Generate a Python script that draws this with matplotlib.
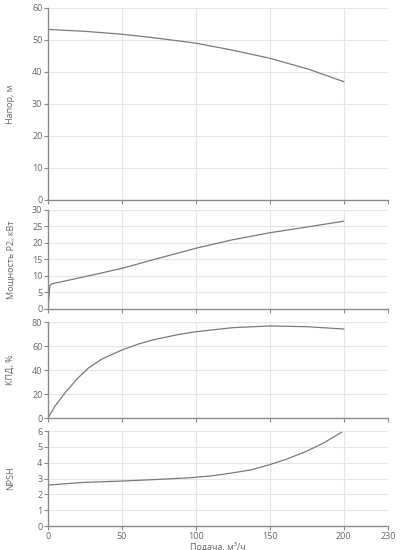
"""Pump performance curves: head, power, efficiency and NPSH vs flow."""
import matplotlib
matplotlib.use("Agg")
import matplotlib.pyplot as plt

plt.rcParams["font.family"] = ["Open Sans", "DejaVu Sans"]

# flow, m3/h -> values
Q_HEAD = [0, 25, 50, 75, 100, 124, 150, 176, 200]
HEAD = [53.3, 52.7, 51.8, 50.5, 49.0, 46.9, 44.3, 40.9, 37.0]

Q_POWER = [0, 0.7, 1.35, 2.5, 25, 50, 75, 100, 124, 150, 176, 200]
POWER = [0, 4.2, 7.1, 7.6, 9.8, 12.3, 15.4, 18.4, 20.9, 23.1, 24.9, 26.6]

Q_EFF = [0, 4.7, 11.5, 20.5, 27.3, 36.3, 50, 61, 72, 87, 100, 125, 150, 175, 200]
EFF = [0, 9.8, 21.0, 33.6, 41.6, 49.0, 56.7, 61.6, 65.4, 69.3, 71.9, 75.3, 76.7, 76.1, 74.2]

Q_NPSH = [0, 25, 50, 76, 96, 110, 123, 137, 149, 161, 174, 186, 198.5]
NPSH = [2.59, 2.76, 2.84, 2.95, 3.05, 3.16, 3.33, 3.54, 3.85, 4.21, 4.69, 5.22, 5.92]

X_TICKS = [0, 50, 100, 150, 200, 230]

PANELS = [
    ("Напор, м", Q_HEAD, HEAD, (0, 60), [0, 10, 20, 30, 40, 50, 60]),
    ("Мощность P2, кВт", Q_POWER, POWER, (0, 30), [0, 5, 10, 15, 20, 25, 30]),
    ("КПД, %", Q_EFF, EFF, (0, 80), [0, 20, 40, 60, 80]),
    ("NPSH", Q_NPSH, NPSH, (0, 6), [0, 1, 2, 3, 4, 5, 6]),
]

RECTS = [
    [0.12, 0.6364, 0.85, 0.3491],
    [0.12, 0.4382, 0.85, 0.1800],
    [0.12, 0.2400, 0.85, 0.1745],
    [0.12, 0.0436, 0.85, 0.1727],
]

GRID = "#e4e4ec"
AXIS = "#8a8a8a"
TEXT = "#666666"
LINE = "#7a7a7a"


def main() -> None:
    fig = plt.figure(figsize=(4, 5.5), dpi=100)
    for i, ((label, x, y, ylim, yticks), rect) in enumerate(zip(PANELS, RECTS)):
        ax = fig.add_axes(rect)
        ax.plot(x, y, color=LINE, linewidth=0.9, solid_joinstyle="round")
        ax.set_xlim(0, 230)
        ax.set_ylim(*ylim)
        ax.set_xticks(X_TICKS)
        ax.set_yticks(yticks)
        ax.grid(True, color=GRID, linewidth=0.8)
        ax.set_axisbelow(True)
        for side in ("top", "right"):
            ax.spines[side].set_visible(False)
        for side in ("left", "bottom"):
            ax.spines[side].set_color(AXIS)
            ax.spines[side].set_linewidth(1.0)
        ax.tick_params(axis="both", colors=AXIS, labelcolor=TEXT, labelsize=6.5,
                       length=3, width=0.8, pad=1)
        ax.set_ylabel(label, color=TEXT, fontsize=6.5)
        ax.yaxis.set_label_coords(-0.097, 0.5)
        if i < len(PANELS) - 1:
            ax.tick_params(axis="x", labelbottom=False)
        else:
            ax.set_xlabel("Подача, м³/ч", color=TEXT, fontsize=6.5, labelpad=1)
    fig.savefig("out.png", dpi=100)
    plt.close(fig)


if __name__ == "__main__":
    main()
